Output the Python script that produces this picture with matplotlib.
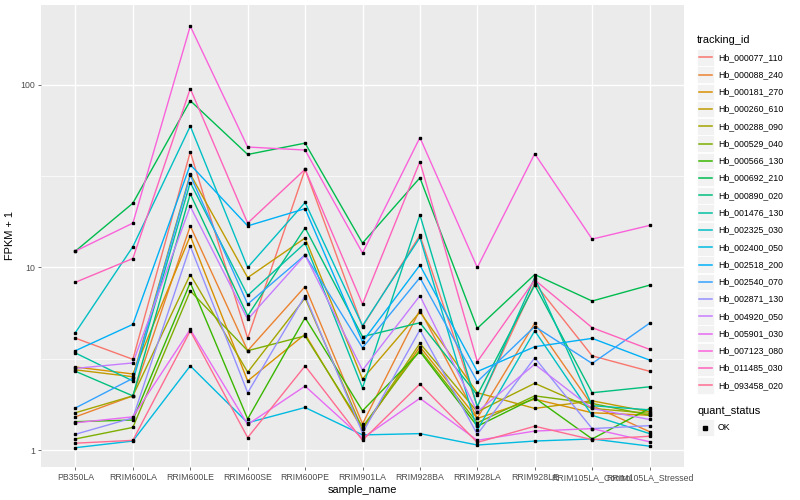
import matplotlib
matplotlib.use("Agg")
import matplotlib.pyplot as plt
from matplotlib.patches import Rectangle
from matplotlib.lines import Line2D
import numpy as np

samples = ["PB350LA", "RRIM600LA", "RRIM600LE", "RRIM600SE", "RRIM600PE",
           "RRIM901LA", "RRIM928BA", "RRIM928LA", "RRIM928LE",
           "RRIM105LA_Control", "RRIM105LA_Stressed"]

tracking_ids = ["Hb_000077_110", "Hb_000088_240", "Hb_000181_270", "Hb_000260_610",
                "Hb_000288_090", "Hb_000529_040", "Hb_000566_130", "Hb_000692_210",
                "Hb_000890_020", "Hb_001476_130", "Hb_002325_030", "Hb_002400_050",
                "Hb_002518_200", "Hb_002540_070", "Hb_002871_130", "Hb_004920_050",
                "Hb_005901_030", "Hb_007123_080", "Hb_011485_030", "Hb_093458_020"]

hb_000077_110 = [4.1, 3.14, 43, 4.09, 34.5, 4.75, 15.0, 1.73, 8.2, 3.28, 2.70]
hb_000088_240 = [1.52, 1.98, 16.9, 3.5, 7.86, 1.39, 5.85, 1.5, 4.95, 1.75, 1.26]
hb_000181_270 = [2.85, 2.61, 14.9, 2.39, 4.31, 1.30, 3.68, 1.49, 1.9, 1.60, 1.55]
hb_000260_610 = [2.75, 2.52, 32.5, 8.8, 14.5, 2.45, 5.7, 2.06, 1.69, 1.86, 1.62]
hb_000288_090 = [1.6, 1.98, 9.15, 2.67, 6.8, 1.30, 3.84, 1.62, 2.32, 1.69, 1.59]
hb_000529_040 = [1.15, 1.33, 7.44, 3.5, 4.22, 1.34, 3.53, 1.41, 1.98, 1.80, 1.55]
hb_000566_130 = [1.43, 1.46, 8.26, 1.48, 5.31, 1.64, 3.46, 1.35, 1.93, 1.15, 1.69]
hb_000692_210 = [12.3, 22.5, 82, 41.6, 48, 13.6, 31, 4.64, 9.15, 6.55, 8.0]
hb_000890_020 = [2.7, 1.98, 25.3, 5.43, 16.5, 4.18, 4.98, 2.0, 8.0, 2.06, 2.22]
hb_001476_130 = [3.4, 2.39, 29.2, 7.03, 13.6, 2.19, 19.4, 1.73, 8.8, 1.75, 1.66]
hb_002325_030 = [4.4, 13.0, 59.5, 10.0, 22.7, 4.8, 14.6, 1.29, 4.5, 1.55, 1.23]
hb_002400_050 = [1.03, 1.12, 2.89, 1.41, 1.71, 1.21, 1.23, 1.065, 1.12, 1.15, 1.05]
hb_002518_200 = [3.5, 4.88, 36.6, 16.9, 21, 3.92, 10.3, 2.69, 3.68, 4.09, 3.11]
hb_002540_070 = [1.7, 2.47, 32, 6.3, 11.7, 3.63, 8.8, 2.37, 4.75, 2.98, 4.95]
hb_002871_130 = [1.22, 1.5, 13.1, 2.06, 7.0, 1.24, 4.55, 1.22, 3.2, 1.31, 1.36]
hb_004920_050 = [2.8, 3.0, 21.6, 5.2, 11.7, 2.74, 7.0, 1.62, 2.95, 1.69, 1.47]
hb_005901_030 = [1.41, 1.52, 4.58, 1.38, 2.24, 1.16, 1.92, 1.13, 1.27, 1.31, 1.11]
hb_007123_080 = [12.3, 17.5, 210, 45.7, 44, 12.0, 51.5, 10.0, 42, 14.3, 17.0]
hb_011485_030 = [8.3, 11.2, 95.5, 17.5, 34.5, 6.3, 38, 3.05, 8.55, 4.68, 3.56]
hb_093458_020 = [1.09, 1.13, 4.49, 1.17, 2.89, 1.13, 2.3, 1.10, 1.35, 1.14, 1.19]

series = [hb_000077_110, hb_000088_240, hb_000181_270, hb_000260_610, hb_000288_090,
          hb_000529_040, hb_000566_130, hb_000692_210, hb_000890_020, hb_001476_130,
          hb_002325_030, hb_002400_050, hb_002518_200, hb_002540_070, hb_002871_130,
          hb_004920_050, hb_005901_030, hb_007123_080, hb_011485_030, hb_093458_020]

colors = ["#F8766D", "#EA8331", "#D89000", "#C09B00", "#A3A500", "#7CAE00", "#39B600",
          "#00BB4E", "#00BF7D", "#00C1A3", "#00BFC4", "#00BAE0", "#00B0F6", "#35A2FF",
          "#9590FF", "#C77CFF", "#E76BF3", "#FA62DB", "#FF62BC", "#FF6C91"]

W, H = 800, 500
PX = 72.0 / 100.0  # ggplot sizes (px @72dpi) -> pt @100dpi
plt.rcParams['font.family'] = ['Liberation Sans', 'DejaVu Sans']

fig = plt.figure(figsize=(W / 100, H / 100), dpi=100)
fig.patch.set_facecolor("white")

L, R, T, B = 41, 684, 5, 467
ax = fig.add_axes([L / W, 1 - B / H, (R - L) / W, (B - T) / H])
ax.set_facecolor("#EBEBEB")
for s in ax.spines.values():
    s.set_visible(False)

x = np.arange(len(samples))
for vals, c in zip(series, colors):
    ax.plot(x, vals, color=c, lw=1.0, zorder=3, solid_capstyle="butt")
for vals in series:
    ax.plot(x, vals, ls="none", marker="s", ms=2.1, color="black", zorder=4)

ax.set_yscale("log")
ax.set_ylim(10 ** -0.093, 10 ** 2.438)
ax.set_xlim(-0.6, 10.6)

ax.set_yticks([1, 10, 100])
ax.set_yticklabels(["1", "10", "100"])
ax.set_yticks([10 ** 0.5, 10 ** 1.5], minor=True)
ax.yaxis.set_minor_formatter(matplotlib.ticker.NullFormatter())
ax.set_xticks(x)
ax.set_xticklabels(samples)
ax.tick_params(axis="both", which="major", length=2.75 * PX, width=0.5, color="#333333",
               labelsize=8.8 * PX, labelcolor="#4D4D4D", pad=2.2 * PX * 1.4)
ax.tick_params(axis="y", which="minor", length=0)
ax.grid(True, which="major", color="white", lw=1.0, zorder=1)
ax.grid(True, which="minor", axis="y", color="white", lw=0.5, zorder=1)
ax.set_axisbelow(True)

ax.set_xlabel("sample_name", fontsize=11 * PX, color="black", labelpad=2)
ax.set_ylabel("FPKM + 1", fontsize=11 * PX, color="black", labelpad=4)

# legend drawn in pixel space
lax = fig.add_axes([0, 0, 1, 1])
lax.set_xlim(0, W)
lax.set_ylim(H, 0)
lax.axis("off")

lax.text(697, 40, "tracking_id", fontsize=11 * PX, va="center", ha="left")
y0 = 57.3
dy = 17.27
for i, (tid, c) in enumerate(zip(tracking_ids, colors)):
    yc = y0 + i * dy
    lax.add_patch(Rectangle((697, yc - 8.3), 16.5, 16.6, facecolor="#F2F2F2",
                            edgecolor="white", lw=0.6))
    lax.add_line(Line2D([698.5, 711.5], [yc, yc], color=c, lw=1.1))
    lax.text(718, yc, tid, fontsize=8.8 * PX, va="center", ha="left")

lax.text(697, 411, "quant_status", fontsize=11 * PX, va="center", ha="left")
yc = 427.5
lax.add_patch(Rectangle((697, yc - 8.3), 16.5, 16.6, facecolor="#F2F2F2",
                        edgecolor="white", lw=0.6))
lax.add_line(Line2D([705.2], [yc], marker="s", ms=2.4, color="black", ls="none"))
lax.text(718, yc, "OK", fontsize=8.8 * PX, va="center", ha="left")

fig.savefig("out.png", dpi=100)
